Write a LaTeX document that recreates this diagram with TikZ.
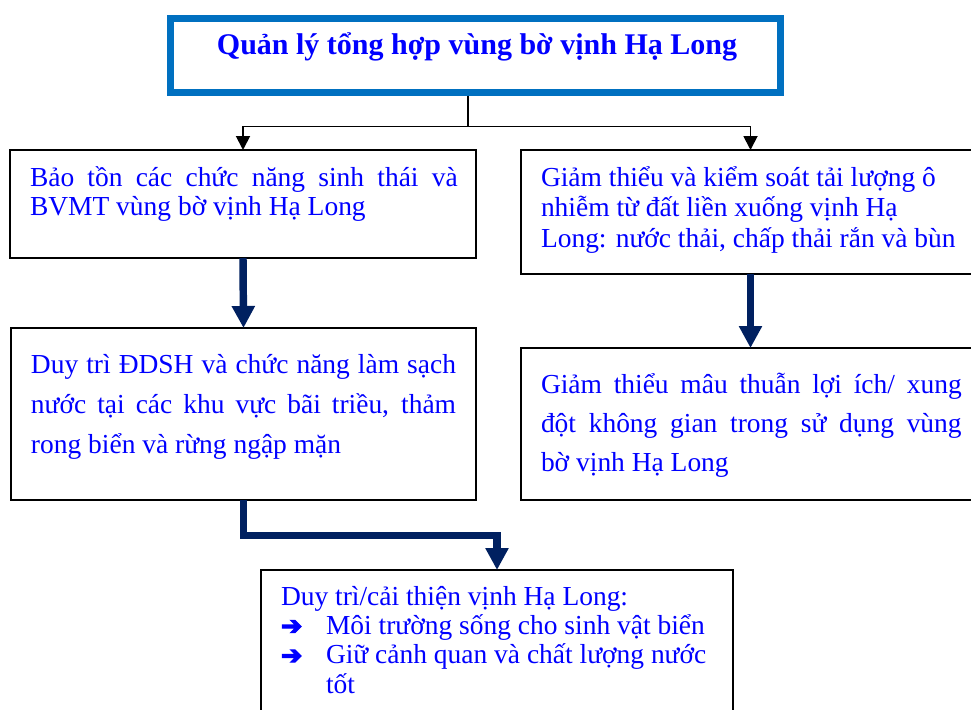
\documentclass[tikz,border=0pt]{standalone}
\usepackage{fontspec}
\setmainfont{Liberation Serif}
\newfontfamily\arrowfont[FakeBold=5]{DejaVu Sans}
\usetikzlibrary{arrows.meta,calc}

\definecolor{txtblue}{HTML}{0000FF}
\definecolor{frameblue}{HTML}{0070C0}
\definecolor{navy}{HTML}{002060}

\newcommand{\barrow}{\makebox[33.75pt][l]{\arrowfont\bfseries\fontsize{19}{19}\selectfont ➔}}

\tikzset{
  box/.style={draw=black, line width=1.5pt, rectangle, outer sep=0pt, inner sep=0pt, fill=white},
  titlebox/.style={draw=frameblue, line width=5.25pt, rectangle, outer sep=0pt, inner sep=0pt, fill=white},
  boxtext/.style={anchor=north west, inner sep=0pt, outer sep=0pt, align=left, text=txtblue, yshift=24pt},
  thinlink/.style={draw=black, line width=1.4pt, -{Triangle[width=10.5pt,length=10.5pt]}},
  thicklink/.style={draw=navy, line width=5.6pt, line join=miter, -{Triangle[width=16.5pt,length=16.5pt]}},
}

\begin{document}
\begin{tikzpicture}[x=0.75pt, y=-0.75pt]
\useasboundingbox (0,0) rectangle (971,710);
\clip (0,0) rectangle (971,710);

% boxes (centre, size between stroke centres)
\node[titlebox, minimum width=457.5pt, minimum height=55.1pt] (top) at (475.5,55.5) {};
\node[box, minimum width=349.5pt, minimum height=81pt]  (b1) at (243,204) {};
\node[box, minimum width=344.25pt, minimum height=93pt] (r1) at (750.5,212) {};
\node[box, minimum width=348.75pt, minimum height=129pt] (b2) at (243.5,414) {};
\node[box, minimum width=344.25pt, minimum height=114pt] (r2) at (750.5,424) {};
\node[box, minimum width=354pt, minimum height=120pt] (b3) at (497,650) {};

% title
\node[anchor=base, inner sep=0pt, text=txtblue, font=\fontsize{22.5}{27}\selectfont\bfseries] (title) at (477,55)
  {Quản lý tổng hợp vùng bờ vịnh Hạ Long};

% box texts
\node[boxtext, font=\fontsize{20.6}{21.75}\selectfont] (t1) at (30,186)
  {\rule{0pt}{24pt}\makebox[320.8pt][s]{Bảo tồn các chức năng sinh thái và}\\
   BVMT vùng bờ vịnh Hạ Long};
\node[boxtext, font=\fontsize{20.6}{22.9}\selectfont] (t2) at (541,186)
  {\rule{0pt}{24pt}Giảm thiểu và kiểm soát tải lượng ô\\
   nhiễm từ đất liền xuống vịnh Hạ\\
   Long: nước thải, chấp thải rắn và bùn};
\node[boxtext, font=\fontsize{20.6}{30}\selectfont] (t3) at (31,373)
  {\rule{0pt}{24pt}\makebox[318.75pt][s]{Duy trì ĐDSH và chức năng làm sạch}\\
   \makebox[318.75pt][s]{nước tại các khu vực bãi triều, thảm}\\
   rong biển và rừng ngập mặn};
\node[boxtext, font=\fontsize{20.6}{29.3}\selectfont] (t4) at (541,393)
  {\rule{0pt}{24pt}\makebox[315.5pt][s]{Giảm thiểu mâu thuẫn lợi ích/ xung}\\
   \makebox[315.5pt][s]{đột không gian trong sử dụng vùng}\\
   bờ vịnh Hạ Long};
\node[boxtext, font=\fontsize{20.6}{22.1}\selectfont] (t5) at (281,605)
  {\rule{0pt}{24pt}Duy trì/cải thiện vịnh Hạ Long:\\
   \barrow Môi trường sống cho sinh vật biển\\
   \barrow Giữ cảnh quan và chất lượng nước\\
   \hspace*{33.75pt}tốt};

% connectors
\coordinate (hub) at (468,126.5);
\draw[draw=black, line width=1.4pt] (hub |- top.south) ++(0,3.5) -- (hub);
\draw[thinlink] (hub) -| (b1.north);
\draw[thinlink] (hub) -| (r1.north);
\draw[thicklink] (b1.south) -- (b2.north);
\draw[thicklink] (r1.south) -- (r2.north);
\draw[thicklink] (b2.south) -- ++(0,35.5) -| (b3.north);
\end{tikzpicture}
\end{document}
